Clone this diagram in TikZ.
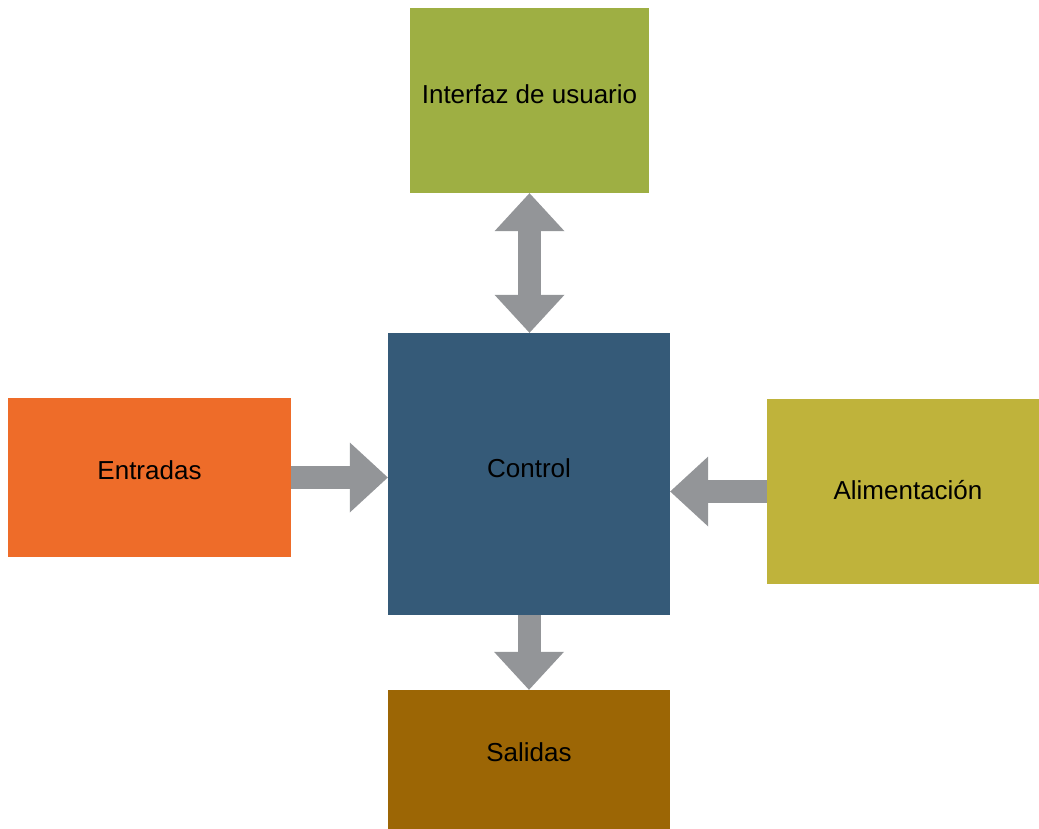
\documentclass[tikz,border=0pt]{standalone}
\usepackage{fontspec}
\setmainfont{Liberation Sans}
\usetikzlibrary{arrows.meta}
\definecolor{verde}{HTML}{9EAF43}
\definecolor{azul}{HTML}{355A78}
\definecolor{naranja}{HTML}{EE6C29}
\definecolor{oliva}{HTML}{BFB33B}
\definecolor{marron}{HTML}{9C6605}
\definecolor{gris}{HTML}{939598}
\begin{document}
\begin{tikzpicture}[x=1pt, y=-1pt,
    bloque/.style={rectangle, inner sep=0pt, text height=19pt, text depth=12pt,
        font=\fontsize{26}{30}\selectfont},
    flecha/.style={draw=gris, line width=23pt},
    punta/.tip={Triangle[width=70pt, length=38pt, line width=0pt]}]
    \useasboundingbox (0,0) rectangle (1039,829);

    % Bloques
    \node[bloque, fill=verde, minimum width=239pt, minimum height=185pt] (ui) at (529.5,100.5) {Interfaz de usuario};
    \node[bloque, fill=azul, minimum width=282pt, minimum height=282pt] (ctrl) at (529,474) {Control};
    \node[bloque, fill=naranja, minimum width=283pt, minimum height=159pt, text depth=16pt] (ent) at (149.5,477.5) {Entradas};
    \node[bloque, fill=oliva, minimum width=272pt, minimum height=185pt, text depth=4pt] (alim) at (903,491.5) {\hspace*{10pt}Alimentación};
    \node[bloque, fill=marron, minimum width=282pt, minimum height=139pt, text depth=16pt] (sal) at (529,759.5) {Salidas};

    % Flechas
    \draw[flecha, punta-punta] (ui.south) -- (ui.south |- ctrl.north);
    \draw[flecha, -punta] (ent.east) -- (ent.east -| ctrl.west);
    \draw[flecha, -punta] (alim.west) -- (alim.west -| ctrl.east);
    \draw[flecha, -punta] (ctrl.south) -- (sal.north);
\end{tikzpicture}
\end{document}
